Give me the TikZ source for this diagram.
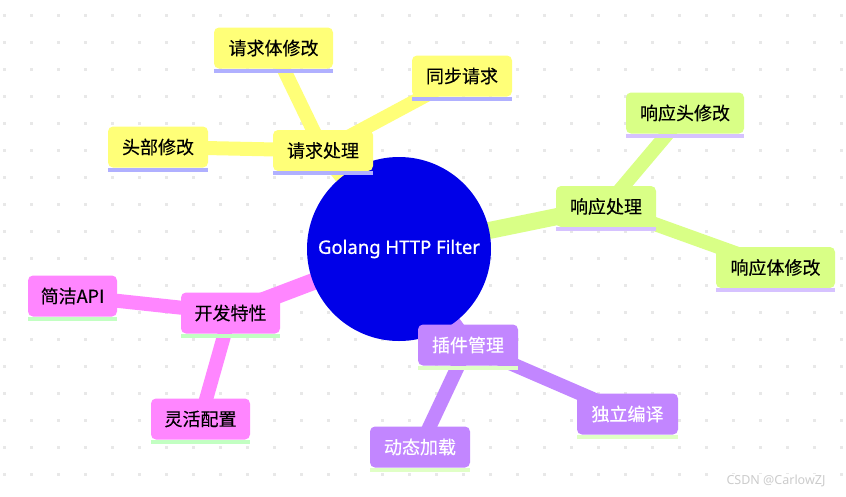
\documentclass[tikz,border=0pt]{standalone}
\usepackage{fontspec}
\newfontfamily\cjk[FakeBold=0.35]{Noto Sans CJK SC}
\newfontfamily\lat[FakeBold=0.8]{Noto Sans}
\newfontfamily\wmfont{Noto Sans}
\definecolor{rootblue}{RGB}{0,0,232}
\definecolor{ylw}{HTML}{FFFF78}
\definecolor{ylwbar}{HTML}{B0B0FF}
\definecolor{grn}{HTML}{D9FF86}
\definecolor{grnbar}{HTML}{D6C2FF}
\definecolor{mag}{HTML}{FF86FF}
\definecolor{magbar}{HTML}{C2FFC2}
\definecolor{prp}{HTML}{C286FF}
\definecolor{prpbar}{HTML}{E0FFC6}
\definecolor{dotc}{HTML}{E8E8E8}
\definecolor{wmark}{HTML}{CCCCCC}
\pgfdeclarelayer{background}
\pgfsetlayers{background,main}
\tikzset{
  mmnode/.style={rectangle, rounded corners=5pt, minimum height=41pt, inner sep=0pt,
    font=\cjk\fontsize{18}{18}\selectfont},
  rootedge/.style={line width=17pt},
  childedge/.style={line width=14pt}
}
\newcommand\mmbox[8]{%
  \node[mmnode, fill=#5, minimum width=#4pt, text=#7] (#1) at (#2,#3) {#8};
  \fill[#6] (#1.south west) rectangle ([yshift=-4pt]#1.south east);
}
\begin{document}
\begin{tikzpicture}[x=1pt,y=-1pt]
\useasboundingbox (0,0) rectangle (846,496);
\node[circle, fill=rootblue, minimum size=184pt, inner sep=0pt, text=white,
  font=\lat\fontsize{18.5}{18.5}\selectfont] (root) at (399,249) {Golang HTTP Filter};
% yellow section
\mmbox{A}{323}{150.5}{100}{ylw}{ylwbar}{black}{请求处理}
\mmbox{A1}{273.5}{48}{119}{ylw}{ylwbar}{black}{请求体修改}
\mmbox{A2}{462}{76}{100}{ylw}{ylwbar}{black}{同步请求}
\mmbox{A3}{158}{147}{100}{ylw}{ylwbar}{black}{头部修改}
% green section
\mmbox{B}{606}{206.5}{100}{grn}{grnbar}{black}{响应处理}
\mmbox{B1}{685}{113}{118}{grn}{grnbar}{black}{响应头修改}
\mmbox{B2}{775.5}{267.5}{119}{grn}{grnbar}{black}{响应体修改}
% magenta section
\mmbox{C}{230.5}{313}{99}{mag}{magbar}{black}{开发特性}
\mmbox{C1}{72.5}{296}{89}{mag}{magbar}{black}{简洁API}
\mmbox{C2}{200.5}{419}{99}{mag}{magbar}{black}{灵活配置}
% purple section
\mmbox{D}{468}{345}{100}{prp}{prpbar}{white}{插件管理}
\mmbox{D1}{627.5}{414}{101}{prp}{prpbar}{white}{独立编译}
\mmbox{D2}{420}{447}{100}{prp}{prpbar}{white}{动态加载}
\begin{pgfonlayer}{background}
\fill[white] (0,0) rectangle (846,496);
\foreach \i in {0,...,31} {
  \foreach \j in {0,...,17} {
    \fill[dotc] ({4.5+27*\i-1.5},{15.3+27*\j-1.5}) rectangle +(3,3);
  }
}
\draw[rootedge, ylw] (root.center) -- (A.center);
\draw[childedge, ylw] (A.center) -- (A1.center);
\draw[childedge, ylw] (A.center) -- (A2.center);
\draw[childedge, ylw] (A.center) -- (A3.center);
\draw[rootedge, grn] (root.center) -- (B.center);
\draw[childedge, grn] (B.center) -- (B1.center);
\draw[childedge, grn] (B.center) -- (B2.center);
\draw[rootedge, mag] (root.center) -- (C.center);
\draw[childedge, mag] (C.center) -- (C1.center);
\draw[childedge, mag] (C.center) -- (C2.center);
\draw[rootedge, prp] (root.center) -- (D.center);
\draw[childedge, prp] (D.center) -- (D1.center);
\draw[childedge, prp] (D.center) -- (D2.center);
\end{pgfonlayer}
\node[text=wmark, fill=white, inner sep=1pt, font=\wmfont\fontsize{12.5}{12.5}\selectfont] (wm) at (776,481) {CSDN @CarlowZJ};
\end{tikzpicture}
\end{document}
